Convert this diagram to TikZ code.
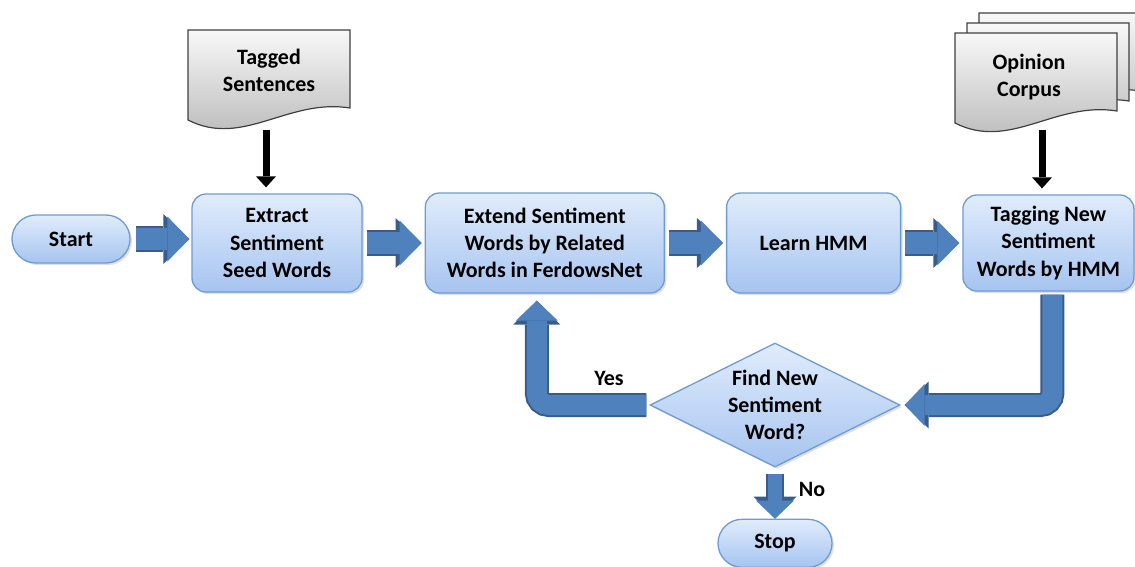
\documentclass[tikz,border=0pt]{standalone}
\usepackage{fontspec}
\setmainfont{Carlito}
\usepackage{xcolor}
\usetikzlibrary{positioning, arrows.meta}
\usetikzlibrary{shapes.geometric, shadows}

\newlength{\px}
\setlength{\px}{0.02cm}

\definecolor{boxtop}{HTML}{E0ECFB}
\definecolor{boxbottom}{HTML}{A6C4F0}
\definecolor{boxline}{HTML}{6F9BD3}
\definecolor{arrowfill}{HTML}{4F81BD}
\definecolor{arrowline}{HTML}{385D8A}
\definecolor{doctop}{HTML}{F8F8F8}
\definecolor{docbottom}{HTML}{B5B5B5}

\tikzset{
	proc/.style={rectangle, rounded corners=14\px, draw=boxline, line width=1.3\px, top color=boxtop, bottom color=boxbottom, align=center, drop shadow={opacity=0.25, shadow xshift=2\px, shadow yshift=-2\px}},
	terminal/.style={proc, rounded corners=24\px, minimum width=118\px, minimum height=48\px},
	decision/.style={proc, sharp corners, diamond, aspect=2, inner sep=-10\px, minimum width=250\px, minimum height=124\px},
	doclabel/.style={align=center},
	% arrow tip sizes in cm (1px = 0.02cm)
	hflow/.style={preaction={draw=arrowline, line width=26\px, -{Triangle[width=1cm, length=0.52cm, line width=0pt]}}, draw=arrowfill, line width=22\px, -{Triangle[width=0.9cm, length=0.44cm, line width=0pt]}},
	bendflow/.style={rounded corners=12\px, preaction={draw=arrowline, line width=24\px, -{Triangle[width=0.94cm, length=0.48cm, line width=0pt]}}, draw=arrowfill, line width=20\px, -{Triangle[width=0.84cm, length=0.4cm, line width=0pt]}},
	downflow/.style={preaction={draw=arrowline, line width=18\px, -{Triangle[width=0.86cm, length=0.44cm, line width=0pt]}}, draw=arrowfill, line width=14\px, -{Triangle[width=0.76cm, length=0.36cm, line width=0pt]}},
	feed/.style={draw=black, line width=7\px, -{Triangle[width=0.4cm, length=0.22cm, line width=0pt]}},
	docpage/.pic={
		\draw[draw=black!75, line width=1.2\px, top color=doctop, bottom color=docbottom]
			(0,0) -- (162,0) -- (162,78) .. controls (100,68) and (55,118) .. (0,90) -- cycle;
	}
}

\begin{document}
\begin{tikzpicture}[x=0.02cm, y=-0.02cm, font=\bfseries\fontsize{12.5pt}{15.4pt}\selectfont]
	\useasboundingbox (0,0) rectangle (1135,566);
	\clip (0,0) rectangle (1135,566);
	
	% documents
	\pic at (188,30) {docpage};
	\pic at (979,13) {docpage};
	\pic at (967,23) {docpage};
	\pic at (955,33) {docpage};
	\node[doclabel] (tagged) at (269,70) {Tagged\\Sentences};
	\node[doclabel] (corpus) at (1029,77) {Opinion\\Corpus};
	\coordinate (taggedfoot) at (266,130);
	\coordinate (corpusfoot) at (1042,130);
	
	% main flow
	\node[terminal] (start) at (71,239) {Start};
	\node[proc, minimum width=170\px, minimum height=98\px] (extract) at (277,243) {Extract\\Sentiment\\Seed Words};
	\node[proc, minimum width=239\px, minimum height=100\px, right=62\px of extract] (extend) {Extend Sentiment\\Words by Related\\Words in FerdowsNet};
	\node[proc, minimum width=174\px, minimum height=100\px, right=61\px of extend] (learn) {Learn HMM};
	\node[proc, minimum width=171\px, minimum height=96\px, right=61\px of learn] (tagging) {Tagging New\\Sentiment\\Words by HMM};
	\node[decision] (decide) at (775,405) {Find New\\Sentiment\\Word?};
	\node[terminal, minimum width=114\px, below=51\px of decide] (stop) {Stop};
	
	\node (yes) at (609,378) {Yes};
	\node (no) at (812,489) {No};
	
	\draw[feed, shorten >=0.12cm] (taggedfoot) -- (taggedfoot |- extract.north);
	\draw[feed, shorten >=0.12cm] (corpusfoot) -- (corpusfoot |- tagging.north);
	
	\draw[hflow, shorten <=0.1cm, shorten >=0.04cm] (start.east) -- (start.east -| extract.west);
	\draw[hflow, shorten <=0.08cm, shorten >=0.06cm] (extract) -- (extend);
	\draw[hflow, shorten <=0.08cm, shorten >=0.06cm] (extend) -- (learn);
	\draw[hflow, shorten <=0.08cm, shorten >=0.06cm] (learn) -- (tagging);
	
	\draw[bendflow, shorten <=0.06cm, shorten >=0.08cm] ([xshift=4\px]tagging.south) |- (decide.east);
	\draw[bendflow, shorten <=0.06cm, shorten >=0.14cm] (decide.west) -| ([xshift=-8\px]extend.south);
	\draw[downflow, shorten <=0.12cm] (decide.south) -- (stop.north);
	
\end{tikzpicture}
\end{document}
